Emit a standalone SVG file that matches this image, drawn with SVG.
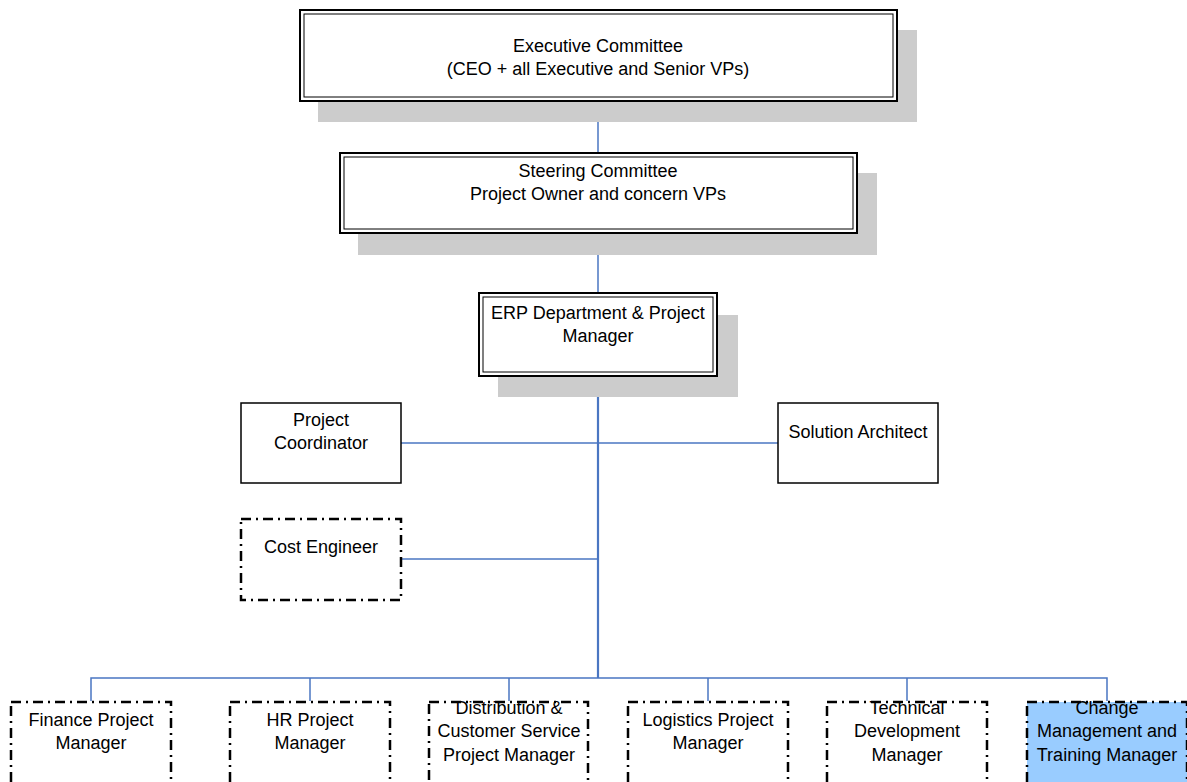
<svg xmlns="http://www.w3.org/2000/svg" width="1187" height="782" viewBox="0 0 1187 782">
<style>
.shadow{fill:#cccccc;stroke:none}
.outer{fill:#ffffff;stroke:#000000;stroke-width:2}
.inner{fill:none;stroke:#000000;stroke-width:1}
.solid{fill:#ffffff;stroke:#000000;stroke-width:1.5}
.dash{fill:#ffffff;stroke:#000000;stroke-width:2.5;stroke-dasharray:10 5 2 5}
.blue{fill:#99ccff}
.conn{fill:none;stroke:#4a76c2;stroke-width:1.5}
text{font-family:"Liberation Sans",Arial,sans-serif;font-size:18px;fill:#000000;text-anchor:middle}
</style>
<rect width="1187" height="782" fill="#ffffff"/>
<g id="connectors">
<line class="conn" x1="598" y1="101" x2="598" y2="153"/>
<line class="conn" x1="598" y1="233" x2="598" y2="293"/>
<line class="conn" x1="598" y1="376" x2="598" y2="678" style="stroke-width:2.2"/>
<line class="conn" x1="401" y1="443" x2="778" y2="443"/>
<line class="conn" x1="401" y1="559" x2="598" y2="559"/>
<polyline class="conn" points="91,701 91,678 1107,678 1107,701"/>
<line class="conn" x1="310" y1="678" x2="310" y2="701"/>
<line class="conn" x1="509" y1="678" x2="509" y2="701"/>
<line class="conn" x1="708" y1="678" x2="708" y2="701"/>
<line class="conn" x1="907" y1="678" x2="907" y2="701"/>
</g>
<g id="executive">
<rect class="shadow" x="318" y="30" width="599" height="92"/>
<rect class="outer" x="300" y="10" width="597" height="91"/>
<rect class="inner" x="304" y="14" width="589" height="83"/>
<text x="598" y="52">Executive Committee</text>
<text x="598" y="75">(CEO + all Executive and Senior VPs)</text>
</g>
<g id="steering">
<rect class="shadow" x="358" y="173" width="519" height="82"/>
<rect class="outer" x="340" y="153" width="517" height="80"/>
<rect class="inner" x="344" y="157" width="509" height="72"/>
<text x="598" y="177">Steering Committee</text>
<text x="598" y="200">Project Owner and concern VPs</text>
</g>
<g id="erp">
<rect class="shadow" x="498" y="315" width="240" height="82"/>
<rect class="outer" x="479" y="293" width="238" height="83"/>
<rect class="inner" x="483" y="297" width="230" height="75"/>
<text x="598" y="319">ERP Department &amp; Project</text>
<text x="598" y="342">Manager</text>
</g>
<g id="coordinator">
<rect class="solid" x="241" y="403" width="160" height="80"/>
<text x="321" y="426">Project</text>
<text x="321" y="449">Coordinator</text>
</g>
<g id="architect">
<rect class="solid" x="778" y="403" width="160" height="80"/>
<text x="858" y="438">Solution Architect</text>
</g>
<g id="cost">
<rect class="dash" x="241" y="519" width="160" height="81"/>
<text x="321" y="553">Cost Engineer</text>
</g>
<g id="finance">
<rect class="dash" x="11" y="702" width="160" height="100"/>
<text x="91" y="726">Finance Project</text>
<text x="91" y="749">Manager</text>
</g>
<g id="hr">
<rect class="dash" x="230" y="702" width="160" height="100"/>
<text x="310" y="726">HR Project</text>
<text x="310" y="749">Manager</text>
</g>
<g id="distribution">
<rect class="dash" x="429" y="702" width="159" height="100"/>
<text x="509" y="714">Distribution &amp;</text>
<text x="509" y="737">Customer Service</text>
<text x="509" y="761">Project Manager</text>
</g>
<g id="logistics">
<rect class="dash" x="628" y="702" width="160" height="100"/>
<text x="708" y="726">Logistics Project</text>
<text x="708" y="749">Manager</text>
</g>
<g id="technical">
<rect class="dash" x="827" y="702" width="160" height="100"/>
<text x="907" y="714">Technical</text>
<text x="907" y="737">Development</text>
<text x="907" y="761">Manager</text>
</g>
<g id="change">
<rect class="dash blue" x="1027" y="702" width="160" height="100"/>
<text x="1107" y="714">Change</text>
<text x="1107" y="737">Management and</text>
<text x="1107" y="761">Training Manager</text>
</g>
</svg>
